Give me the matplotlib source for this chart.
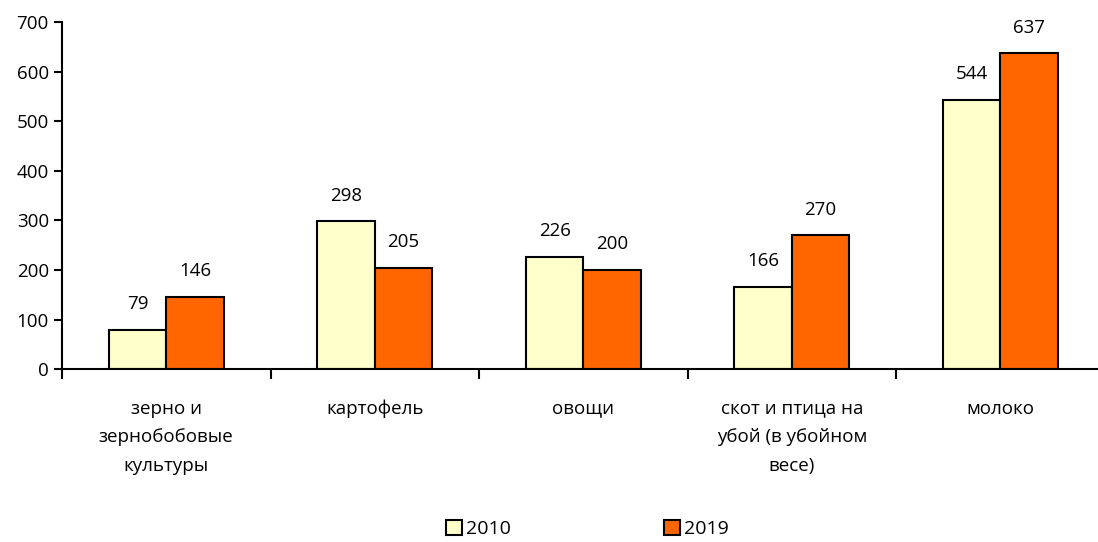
import matplotlib.pyplot as plt
from matplotlib.patches import Patch

categories = [
    "зерно и\nзернобобовые\nкультуры",
    "картофель",
    "овощи",
    "скот и птица на\nубой (в убойном\nвесе)",
    "молоко",
]
years = ["2010", "2019"]
values_2010 = [79, 298, 226, 166, 544]
values_2019 = [146, 205, 200, 270, 637]

colors = ["#FFFFCC", "#FF6600"]

plt.rcParams["font.family"] = ["Open Sans", "DejaVu Sans"]
plt.rcParams["font.size"] = 13.5

fig = plt.figure(figsize=(10.98, 5.42), dpi=100)
ax = fig.add_axes([0.0565, 0.319, 0.9495, 0.64])

width = 0.275
xs = list(range(len(categories)))
for i, (vals, color) in enumerate(zip([values_2010, values_2019], colors)):
    pos = [x + (i - 0.5) * width for x in xs]
    bars = ax.bar(pos, vals, width, color=color, edgecolor="black", linewidth=1.5)
    for b, v in zip(bars, vals):
        ax.annotate(str(v), (b.get_x() + b.get_width() / 2, v),
                    xytext=(0, 12), textcoords="offset points",
                    ha="center", va="bottom")

ax.set_xlim(-0.5, len(categories) - 0.5)
ax.set_ylim(0, 700)
ax.set_yticks(range(0, 701, 100))

# boundary ticks between groups, labels at group centres
ax.set_xticks([x - 0.5 for x in range(len(categories) + 1)])
ax.set_xticklabels([])
ax.set_xticks(xs, minor=True)
ax.set_xticklabels(categories, minor=True, linespacing=1.75)
ax.tick_params(axis="x", which="minor", length=0, pad=22)
ax.tick_params(axis="x", which="major", length=7, width=1.5, direction="out")
ax.tick_params(axis="y", length=6, width=1.5)

for side in ["top", "right"]:
    ax.spines[side].set_visible(False)
for side in ["left", "bottom"]:
    ax.spines[side].set_linewidth(1.5)

handles = [Patch(facecolor=c, edgecolor="black", linewidth=1.5) for c in colors]
fig.legend(handles, years, loc="lower center", bbox_to_anchor=(0.535, -0.025),
           ncol=2, frameon=False, columnspacing=7.9, handlelength=0.8,
           handleheight=0.8, handletextpad=0.2, fontsize=14)

fig.savefig("out.png", dpi=100)
